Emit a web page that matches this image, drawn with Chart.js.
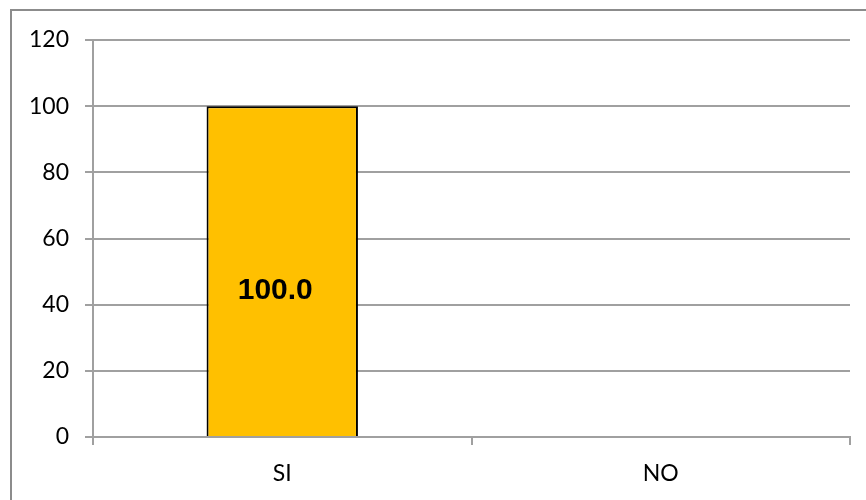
<!DOCTYPE html>
<html>
<head>
<meta charset="utf-8">
<script src="https://cdn.jsdelivr.net/npm/chart.js@4"></script>
<style>
  html, body { margin: 0; padding: 0; background: #fff; overflow: hidden; }
  #wrap { width: 866px; height: 500px; position: relative; }
</style>
</head>
<body>
<div id="wrap"><canvas id="chart" width="866" height="500"></canvas></div>
<script>
const categories = ["SI", "NO"];
const values = [100, 0];
const yTicks = [0, 20, 40, 60, 80, 100, 120];

// marco exterior y etiquetas de valor
const frame = {
  id: "frame",
  beforeDraw(chart) {
    const ctx = chart.ctx;
    ctx.save();
    ctx.fillStyle = "#fff";
    ctx.fillRect(0, 0, chart.width, chart.height);
    ctx.strokeStyle = "#8c8c8c";
    ctx.lineWidth = 2;
    ctx.strokeRect(11, 10, chart.width + 20, chart.height + 20);
    ctx.restore();
  },
  afterDatasetsDraw(chart) {
    const ctx = chart.ctx;
    const meta = chart.getDatasetMeta(0);
    ctx.save();
    ctx.font = "bold 30px 'Liberation Sans'";
    ctx.fillStyle = "#000";
    ctx.textAlign = "center";
    ctx.textBaseline = "middle";
    meta.data.forEach((bar, i) => {
      if (!values[i]) return;
      const mid = (bar.y + bar.base) / 2 + 20;
      ctx.fillText(values[i].toFixed(1), bar.x - 7, mid);
    });
    ctx.restore();
  },
};

new Chart(document.getElementById("chart"), {
  type: "bar",
  data: {
    labels: categories,
    datasets: [
      {
        data: values,
        backgroundColor: "#FFC000",
        borderColor: "#000",
        borderWidth: 2,
        barPercentage: 0.4,
        categoryPercentage: 1,
      },
    ],
  },
  options: {
    responsive: false,
    animation: false,
    layout: { padding: { top: 40, right: 16, left: 0, bottom: 0 } },
    plugins: {
      legend: { display: false },
      tooltip: { enabled: false },
    },
    scales: {
      y: {
        min: 0,
        max: 120,
        afterFit(scale) {
          scale.width = 93;
        },
        afterBuildTicks(scale) {
          scale.ticks = yTicks.map((v) => ({ value: v }));
        },
        ticks: {
          color: "#000",
          padding: 16,
          font: { family: "Lato", size: 23 },
        },
        grid: {
          color: "#a0a0a0",
          lineWidth: 2,
          tickLength: 8,
        },
        border: { color: "#a0a0a0", width: 2 },
      },
      x: {
        afterFit(scale) {
          scale.height = 63;
        },
        ticks: {
          color: "#000",
          padding: 15,
          font: { family: "Lato", size: 23 },
        },
        grid: {
          offset: true,
          drawOnChartArea: false,
          color: "#a0a0a0",
          lineWidth: 2,
          tickLength: 8,
        },
        border: { color: "#a0a0a0", width: 2 },
      },
    },
  },
  plugins: [frame],
});
</script>
</body>
</html>
